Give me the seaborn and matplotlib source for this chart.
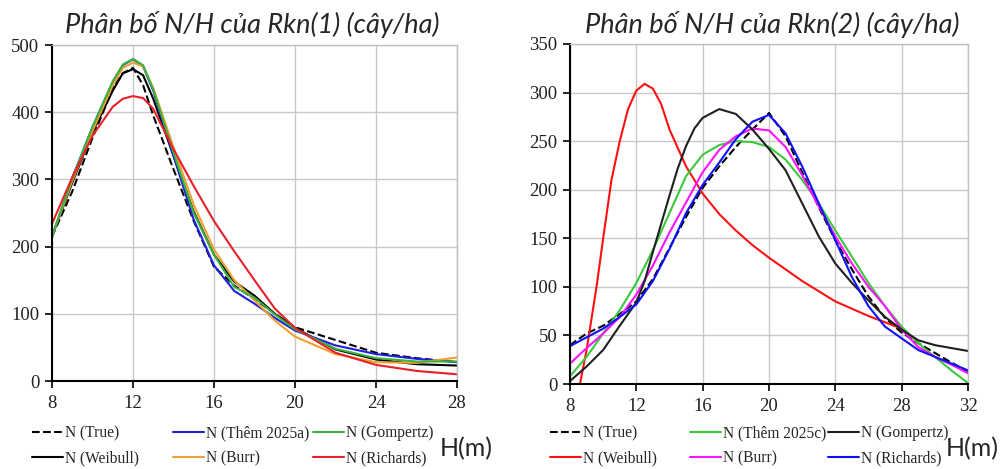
import pandas as pd
import seaborn as sns
import matplotlib.pyplot as plt

# ---- left panel: Rkn(1) ----
h1 = [8, 9, 10, 11, 11.5, 12, 12.5, 13, 14, 15, 16, 17, 18, 19, 20, 22, 24, 26, 28]
n1_true = [215, 282, 362, 435, 458, 466, 440, 395, 315, 238, 170, 142, 122, 100, 80, 61, 42, 34, 28]
n1_them = [215, 302, 378, 445, 470, 479, 468, 432, 335, 240, 172, 134, 115, 94, 75, 53, 40, 33, 28]
n1_gompertz = [215, 302, 378, 446, 471, 479, 470, 434, 340, 250, 188, 140, 124, 99, 77, 48, 34, 29, 29]
n1_weibull = [215, 295, 370, 432, 458, 464, 455, 420, 335, 252, 188, 148, 127, 100, 79, 47, 32, 25, 23]
n1_burr = [215, 298, 372, 440, 466, 474, 468, 436, 348, 262, 196, 150, 120, 90, 66, 40, 28, 27, 35]
n1_richards = [234, 303, 365, 408, 420, 424, 421, 405, 345, 290, 238, 193, 150, 108, 79, 42, 24, 15, 10]

# ---- right panel: Rkn(2) ----
h2 = list(range(8, 33))
n2_true = [40, 52, 60, 72, 85, 108, 140, 172, 202, 224, 244, 262, 279, 255, 218, 182, 148, 118, 90, 68, 53, 42, 32, 22, 13]
n2_them = [8, 28, 52, 76, 104, 138, 176, 214, 236, 246, 250, 249, 244, 231, 210, 186, 158, 131, 104, 80, 59, 42, 28, 14, 1]
n2_burr = [21, 37, 52, 69, 92, 122, 156, 187, 218, 241, 255, 263, 261, 244, 215, 183, 152, 124, 100, 80, 56, 38, 28, 20, 11]
n2_richards = [39, 48, 57, 69, 82, 106, 139, 176, 205, 228, 252, 270, 277, 258, 224, 186, 148, 110, 80, 59, 47, 35, 28, 21, 14]
h2_gompertz = [8, 9, 10, 11, 12, 12.5, 13, 13.5, 14, 14.5, 15, 15.5, 16, 17, 18, 19, 20, 21, 22, 23, 24,
               25, 26, 27, 28, 29, 30, 31, 32]
n2_gompertz = [3, 18, 35, 60, 84, 106, 136, 165, 194, 222, 245, 263, 274, 283, 278, 262, 242, 220, 186, 152, 124,
               104, 86, 69, 56, 45, 40, 37, 34]
h2_weibull = [8.6, 9, 9.6, 10, 10.5, 11, 11.5, 12, 12.5, 13, 13.5, 14, 15, 16, 17, 18, 19, 20, 22, 24, 26, 28]
n2_weibull = [0, 35, 100, 150, 210, 250, 283, 302, 309, 304, 288, 262, 224, 196, 175, 158, 143, 130, 106, 85, 70, 57]

sns.set_style("white")
plt.rcParams['font.family'] = ['Liberation Serif', 'DejaVu Serif']

fig = plt.figure(figsize=(10.08, 4.69), dpi=100)
ax1 = fig.add_axes([52 / 1008, 88 / 469, 405 / 1008, 336 / 469])
ax2 = fig.add_axes([570 / 1008, 85 / 469, 398 / 1008, 340 / 469])

left_series = [
    ('N (True)', h1, n1_true, 'black', '--'),
    ('N (Weibull)', h1, n1_weibull, 'black', '-'),
    ('N (Thêm 2025a)', h1, n1_them, '#1f1fe0', '-'),
    ('N (Burr)', h1, n1_burr, '#f0a030', '-'),
    ('N (Gompertz)', h1, n1_gompertz, '#3cb43c', '-'),
    ('N (Richards)', h1, n1_richards, '#e8202a', '-'),
]
right_series = [
    ('N (True)', h2, n2_true, 'black', '--'),
    ('N (Weibull)', h2_weibull, n2_weibull, '#ff1010', '-'),
    ('N (Thêm 2025c)', h2, n2_them, '#3cc83c', '-'),
    ('N (Burr)', h2, n2_burr, '#ff10ff', '-'),
    ('N (Gompertz)', h2_gompertz, n2_gompertz, '#202020', '-'),
    ('N (Richards)', h2, n2_richards, '#1010ff', '-'),
]


def draw_panel(ax, series, xlim, xticks, ylim, yticks):
    for label, x, y, color, ls in series:
        df = pd.DataFrame({'H': x, 'N': y})
        sns.lineplot(data=df, x='H', y='N', ax=ax, color=color, linestyle=ls,
                     linewidth=1.5, label=label, legend=False)
    ax.set_xlim(*xlim)
    ax.set_ylim(*ylim)
    ax.set_xticks(xticks)
    ax.set_yticks(yticks)
    ax.set_xlabel('')
    ax.set_ylabel('')
    ax.grid(True, color='#c8c8c8', linewidth=1)
    for s in ['top', 'right']:
        ax.spines[s].set_color('#c0c0c0')
        ax.spines[s].set_linewidth(1)
    for s in ['left', 'bottom']:
        ax.spines[s].set_color('black')
        ax.spines[s].set_linewidth(1.5)
    ax.tick_params(axis='both', direction='out', length=5, width=1.2,
                   color='black', labelsize=13.5, left=True, bottom=True,
                   labelcolor='#222222')
    ax.tick_params(axis='x', pad=5)
    ax.tick_params(axis='y', pad=4)
    ax.set_axisbelow(True)


draw_panel(ax1, left_series, (8, 28), [8, 12, 16, 20, 24, 28], (0, 500), range(0, 501, 100))
draw_panel(ax2, right_series, (8, 32), [8, 12, 16, 20, 24, 28, 32], (0, 350), range(0, 351, 50))

# one small legend per column, two rows each, placed under each panel
legend_cols = [(ax1, [32, 173, 313]), (ax2, [550, 690, 828])]
for ax, xs in legend_cols:
    lines = ax.get_lines()
    for i, x0 in enumerate(xs):
        fig.legend(handles=lines[2 * i:2 * i + 2], loc='upper left',
                   bbox_to_anchor=(x0 / 1008, 1 - 425 / 469),
                   ncol=1, frameon=False, fontsize=11.2, handlelength=2.0,
                   handletextpad=0.1, labelspacing=0.6,
                   borderaxespad=0, borderpad=0)

title_font = dict(family='Lato', style='italic', fontsize=19.5)
fig.text(252 / 1008, 1 - 24 / 469, 'Phân bố N/H của Rkn(1) (cây/ha)', ha='center', va='center', **title_font)
fig.text(772 / 1008, 1 - 24 / 469, 'Phân bố N/H của Rkn(2) (cây/ha)', ha='center', va='center', **title_font)
fig.text(440 / 1008, 1 - 449 / 469, 'H(m)', ha='left', va='center', family='Lato', fontsize=18)
fig.text(946 / 1008, 1 - 449 / 469, 'H(m)', ha='left', va='center', family='Lato', fontsize=18)

fig.savefig('out.png', dpi=100)
